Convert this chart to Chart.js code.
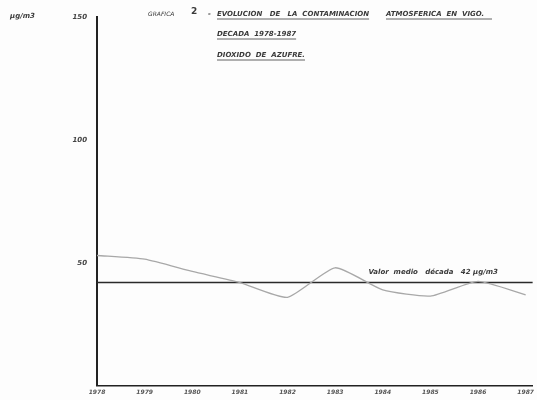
<!DOCTYPE html>
<html>
<head>
<meta charset="utf-8">
<script src="https://cdn.jsdelivr.net/npm/chart.js@4"></script>
<style>
  html, body { margin: 0; padding: 0; background: #fdfdfd; }
  #wrap { width: 537px; height: 400px; }
</style>
</head>
<body>
<div id="wrap"><canvas id="chart" width="537" height="400"></canvas></div>
<script>
// Data
const years = [1978, 1979, 1980, 1981, 1982, 1983, 1984, 1985, 1986, 1987];
const so2Values = [53, 51.5, 46.5, 42, 36, 48, 39, 36.5, 42.5, 37];
const meanValue = 42;
const yTickValues = [50, 100, 150];
const meanLabel = 'Valor  medio   década   42 µg/m3';

const inkColor = '#3a3a3a';
const textFont = 'italic bold 7px "DejaVu Sans"';

// Title and labels drawn on top, positioned in pixels like the scan
const annotations = {
  id: 'annotations',
  afterDraw(chart) {
    const ctx = chart.ctx;
    const x = chart.scales.x;
    const y = chart.scales.y;
    ctx.save();
    ctx.fillStyle = inkColor;
    ctx.strokeStyle = inkColor;
    ctx.lineWidth = 0.8;
    ctx.textBaseline = 'middle';

    // unit label
    ctx.font = textFont;
    ctx.fillText('µg/m3', 10, 16);

    function underlined(text, px, py) {
      ctx.fillText(text, px, py);
      const w = ctx.measureText(text).width;
      ctx.beginPath();
      ctx.moveTo(px, py + 5);
      ctx.lineTo(px + w, py + 5);
      ctx.stroke();
    }

    ctx.font = 'italic 6px "DejaVu Sans"';
    ctx.fillText('GRAFICA', 148, 14);
    ctx.font = 'bold 9px "DejaVu Sans"';
    ctx.fillText('2', 191, 12);
    ctx.font = textFont;
    ctx.fillText('-', 208, 14);
    underlined('EVOLUCION   DE   LA  CONTAMINACION', 217, 14);
    ctx.fillText('ATMOSFERICA  EN  VIGO.', 386, 14);
    ctx.beginPath();
    ctx.moveTo(386, 19);
    ctx.lineTo(492, 19);
    ctx.stroke();
    underlined('DECADA  1978-1987', 217, 34);
    underlined('DIOXIDO  DE  AZUFRE.', 217, 55);

    // mean label above the mean line
    ctx.font = 'italic bold 7px "DejaVu Sans"';
    ctx.fillText(meanLabel, x.getPixelForValue(1983.7), y.getPixelForValue(meanValue) - 10);
    ctx.restore();
  }
};

new Chart(document.getElementById('chart'), {
  type: 'line',
  data: {
    datasets: [
      {
        label: 'SO2',
        data: years.map((yr, i) => ({ x: yr, y: so2Values[i] })),
        borderColor: '#a8a8a8',
        borderWidth: 1.3,
        pointRadius: 0,
        tension: 0.18,
        fill: false
      },
      {
        label: 'Valor medio',
        data: [{ x: years[0], y: meanValue }, { x: 1987.15, y: meanValue }],
        borderColor: '#2a2a2a',
        borderWidth: 1.6,
        pointRadius: 0,
        fill: false
      }
    ]
  },
  options: {
    responsive: false,
    animation: false,
    layout: { padding: { top: 17, right: 0, left: 0, bottom: 0 } },
    plugins: {
      legend: { display: false },
      tooltip: { enabled: false }
    },
    scales: {
      x: {
        type: 'linear',
        min: 1978,
        max: 1987.15,
        afterBuildTicks: (scale) => { scale.ticks = years.map(v => ({ value: v })); },
        afterFit: (scale) => { scale.height = 14; },
        grid: { display: false, drawTicks: false },
        border: { display: true, color: '#222', width: 1.5 },
        ticks: {
          padding: 3,
          maxRotation: 0,
          autoSkip: false,
          color: '#555',
          font: { family: 'DejaVu Sans', size: 6, style: 'italic', weight: 'bold' },
          callback: (v) => String(v)
        }
      },
      y: {
        min: 0,
        max: 150,
        afterBuildTicks: (scale) => { scale.ticks = yTickValues.map(v => ({ value: v })); },
        afterFit: (scale) => { scale.width = 97; },
        grid: { display: false, drawTicks: false },
        border: { display: true, color: '#222', width: 2 },
        ticks: {
          padding: 10,
          color: '#444',
          font: { family: 'DejaVu Sans', size: 7, style: 'italic', weight: 'bold' }
        }
      }
    }
  },
  plugins: [annotations]
});
</script>
</body>
</html>
